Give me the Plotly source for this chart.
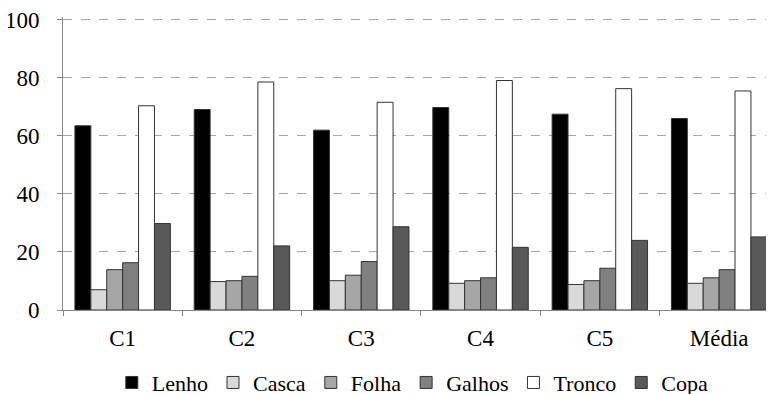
import plotly.graph_objects as go

categories = ["C1", "C2", "C3", "C4", "C5", "Média"]
lenho = [63.5, 69.1, 62.0, 69.8, 67.5, 66.0]
casca = [7.0, 9.8, 10.1, 9.2, 8.8, 9.2]
folha = [13.9, 10.1, 12.0, 10.1, 10.1, 11.1]
galhos = [16.3, 11.6, 16.7, 11.1, 14.4, 13.9]
tronco = [70.4, 78.6, 71.6, 79.1, 76.3, 75.5]
copa = [29.8, 22.1, 28.7, 21.6, 24.0, 25.2]
y_ticks = [0, 20, 40, 60, 80, 100]

series = [
    ("Lenho", lenho, "#000000"),
    ("Casca", casca, "#d9d9d9"),
    ("Folha", folha, "#a6a6a6"),
    ("Galhos", galhos, "#808080"),
    ("Tronco", tronco, "#ffffff"),
    ("Copa", copa, "#595959"),
]

font_family = "'Liberation Serif', 'Times New Roman', serif"
fs_tick = 23
fs_leg = 22

fig = go.Figure()
for name, vals, color in series:
    fig.add_trace(go.Bar(
        x=categories, y=vals, name=name,
        marker=dict(color=color, line=dict(color="#333333", width=1)),
    ))

# page body has an 8px default margin, so the figure is sized 8px smaller
fig.update_layout(
    width=766, height=386,
    margin=dict(l=55, r=0, t=9, b=84, autoexpand=False),
    paper_bgcolor="white", plot_bgcolor="white",
    barmode="group", bargap=0.2, bargroupgap=0,
    font=dict(family=font_family, size=fs_tick, color="#000000"),
    showlegend=True,
    legend=dict(
        orientation="h", x=0.492, xanchor="center",
        yref="paper", y=-0.248, yanchor="middle",
        font=dict(family=font_family, size=fs_leg, color="#000000"),
        itemwidth=30, traceorder="normal",
    ),
    xaxis=dict(
        type="category",
        range=[-0.5, 5.46],
        automargin=False,
        showline=True, linecolor="#868686", linewidth=1,
        ticks="outside", ticklen=5, tickcolor="#868686",
        tickson="boundaries",
        showgrid=False,
        tickfont=dict(family=font_family, size=fs_tick, color="#000000"),
        ticklabelstandoff=7,
    ),
    yaxis=dict(
        range=[0, 101], tickvals=y_ticks,
        automargin=False,
        showline=True, linecolor="#868686", linewidth=1,
        ticks="outside", ticklen=5, tickcolor="#868686",
        showgrid=True, gridcolor="#a6a6a6", griddash="dash", gridwidth=1,
        zeroline=False,
        ticklabeloverflow="allow",
        tickfont=dict(family=font_family, size=fs_tick, color="#000000"),
        ticklabelstandoff=13,
    ),
)

fig.write_html("out.html")
